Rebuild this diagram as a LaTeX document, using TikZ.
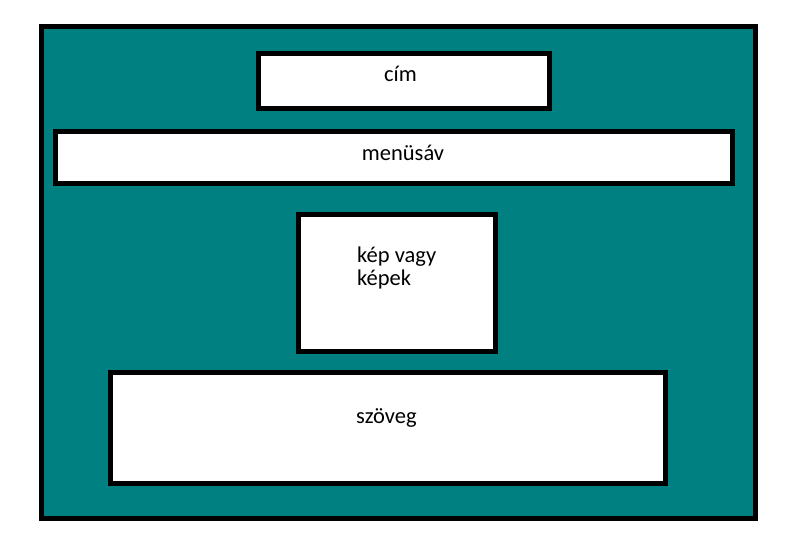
\documentclass[tikz,border=0pt]{standalone}
\usepackage{fontspec}
\setmainfont{Carlito}
\usepackage{tikz}
\usetikzlibrary{positioning}
\usepackage{xcolor}
\definecolor{pageteal}{RGB}{0, 128, 128}

\begin{document}
\begin{tikzpicture}[
    x=1pt, y=-1pt,
    frame/.style={draw=black, fill=pageteal, line width=5pt, inner sep=0pt},
    pane/.style={draw=black, fill=white, line width=5pt, inner sep=0pt},
    caption/.style={inner sep=0pt, font=\fontsize{22.5}{23.5}\selectfont},
  ]
    \useasboundingbox (0,0) rectangle (790,552);

    % Page background
    \node[frame, minimum width=714pt, minimum height=492pt] (page) at (398.8,272.8) {};

    % Title
    \node[pane, minimum width=290.7pt, minimum height=54.8pt] (title) at (403.9,80.9) {};
    \node[caption, anchor=base] (titletext) at (400.5,81.7) {cím};

    % Menu bar
    \node[pane, minimum width=677pt, minimum height=51.6pt] (menubar) at (394,157.5) {};
    \node[caption, anchor=base] (menutext) at (403,160) {menüsáv};

    % Pictures
    \node[pane, minimum width=196.5pt, minimum height=136.6pt] (images) at (396.75,283) {};
    \node[caption, anchor=base west, align=left] (imagestext) at (357,285.5)
      {kép vagy\\képek};

    % Text
    \node[pane, minimum width=555pt, minimum height=110.8pt] (body) at (387.7,427.9) {};
    \node[caption, anchor=base] (bodytext) at (386.4,423.3) {szöveg};
  \end{tikzpicture}
\end{document}
